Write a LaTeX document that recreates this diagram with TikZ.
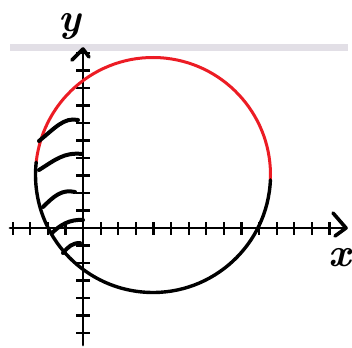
\documentclass[tikz,border=0pt]{standalone}
\usepackage{fontspec}
\definecolor{myred}{RGB}{236,28,36}
\definecolor{band}{RGB}{226,223,230}
\begin{document}
\begin{tikzpicture}[x=1pt,y=-1pt,
  axis/.style={line width=2.8pt, line cap=round},
  tickmark/.style={line width=2.2pt},
  arrowhd/.style={line width=3.6pt, line cap=round, line join=round},
  redarc/.style={line width=3pt, draw=myred},
  blackarc/.style={line width=3.4pt, line cap=round},
  hatch/.style={line width=4pt, line cap=round},
  lbl/.style={font=\fontsize{40}{40}\selectfont\bfseries\itshape, inner sep=0pt}]
\useasboundingbox (0,0) rectangle (352,347);
\fill[white] (0,0) rectangle (352,347);
\draw[line width=7pt, draw=band] (10,48) -- (348,48);
% axes
\coordinate (xl) at (10,228);
\coordinate (xr) at (346,228);
\coordinate (yb) at (83,345);
\coordinate (yt) at (83,49);
\draw[axis] (xl) -- (xr);
\draw[axis] (yb) -- (yt);
\foreach \k in {-4,...,-1,1,2,...,14} \draw[tickmark] ({83+17.6*\k},222) -- ++(0,13);
\foreach \k in {-6,...,-1,1,2,...,10} \draw[tickmark] (76,{228-17.5*\k}) -- ++(14,0);
\draw[arrowhd] (333,213) -- (xr) -- (335,236);
\draw[arrowhd] (72,60) -- (yt) -- (89,57);
% circle
\coordinate (c) at (153,175);
\draw[redarc] (c) ++(186.3:117.5) arc[start angle=186.3, end angle=362.4, radius=117.5];
\draw[blackarc] (c) ++(2.4:117.5) arc[start angle=2.4, end angle=186.3, radius=117.5];
% hatching
\draw[hatch] (39,141) .. controls (55,128) and (64,117) .. (78,120);
\draw[hatch] (39,170) .. controls (55,160) and (64,152) .. (82,154);
\draw[hatch] (43,207) .. controls (54,196) and (62,189) .. (75,192);
\draw[hatch] (52,233) .. controls (60,225) and (70,219) .. (83,220);
\draw[hatch] (63,253) .. controls (68,247) and (72,243) .. (80,243);
% labels
\node[lbl] (ylabel) at (70,27) {y};
\node[lbl] (xlabel) at (340,258) {x};
\end{tikzpicture}
\end{document}
